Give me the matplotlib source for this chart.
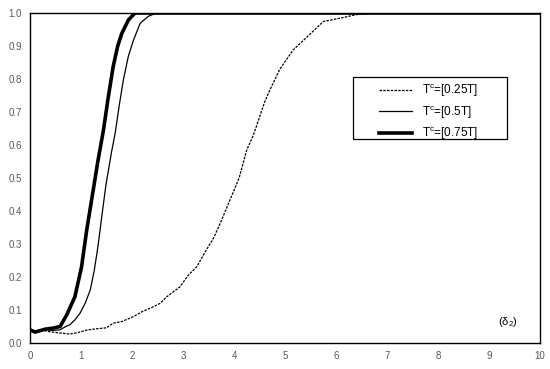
import matplotlib
matplotlib.use("Agg")
import matplotlib.pyplot as plt
from matplotlib.patches import Rectangle
from matplotlib.ticker import FormatStrFormatter

plt.rcParams["font.family"] = ["Liberation Sans", "DejaVu Sans"]

# T^c = 0.25T (dashed)
x_q = [0.0, 0.1, 0.2, 0.39, 0.6, 0.78, 0.95, 1.11, 1.3, 1.5, 1.63, 1.8, 2.03, 2.2,
       2.42, 2.55, 2.68, 2.94, 3.1, 3.27, 3.45, 3.6, 3.75, 3.92, 4.1, 4.25, 4.38,
       4.48, 4.6, 4.7, 4.9, 5.16, 5.45, 5.75, 6.1, 6.4, 6.7, 10.0]
y_q = [0.04, 0.035, 0.04, 0.034, 0.03, 0.027, 0.032, 0.039, 0.043, 0.046, 0.06, 0.065,
       0.08, 0.095, 0.11, 0.12, 0.14, 0.17, 0.205, 0.231, 0.28, 0.318, 0.37, 0.433,
       0.5, 0.585, 0.63, 0.675, 0.73, 0.766, 0.83, 0.888, 0.93, 0.974, 0.985, 0.995,
       1.0, 1.0]

# T^c = 0.5T (thin)
x_h = [0.0, 0.1, 0.3, 0.45, 0.59, 0.7, 0.78, 0.88, 0.98, 1.08, 1.18, 1.26, 1.33,
       1.43, 1.49, 1.6, 1.67, 1.75, 1.83, 1.93, 2.03, 2.16, 2.32, 2.48, 10.0]
y_h = [0.04, 0.033, 0.04, 0.038, 0.04, 0.05, 0.055, 0.07, 0.09, 0.12, 0.16, 0.22,
       0.29, 0.41, 0.48, 0.58, 0.636, 0.72, 0.797, 0.87, 0.918, 0.969, 0.99, 1.0, 1.0]

# T^c = 0.75T (thick)
x_t = [0.0, 0.1, 0.3, 0.45, 0.59, 0.72, 0.88, 1.01, 1.11, 1.24, 1.33, 1.44,
       1.53, 1.63, 1.72, 1.8, 1.93, 2.06, 10.0]
y_t = [0.04, 0.033, 0.042, 0.045, 0.05, 0.085, 0.14, 0.23, 0.34, 0.464, 0.55, 0.645,
       0.74, 0.837, 0.9, 0.938, 0.979, 1.0, 1.0]

labels = ["T$^{\\mathregular{c}}$=[0.25T]", "T$^{\\mathregular{c}}$=[0.5T]",
          "T$^{\\mathregular{c}}$=[0.75T]"]

fig = plt.figure(figsize=(5.5, 3.69), dpi=100)
ax = fig.add_axes([30 / 550, 26 / 369, 510 / 550, 330 / 369])

ax.plot(x_q, y_q, color="black", lw=0.9, ls=(0, (2, 1)), label=labels[0])
ax.plot(x_h, y_h, color="black", lw=0.9, label=labels[1])
ax.plot(x_t, y_t, color="black", lw=2.6, label=labels[2])

ax.set_xlim(0, 10)
ax.set_ylim(0, 1)
ax.set_xticks(range(0, 11))
ax.set_yticks([i / 10 for i in range(11)])
ax.yaxis.set_major_formatter(FormatStrFormatter("%.1f"))
ax.tick_params(length=0, labelsize=7, labelcolor="#595959", pad=6)
for s in ax.spines.values():
    s.set_color("black")
    s.set_linewidth(1.0)

ax.text(9.37, 0.065, "(δ$_{\\mathregular{2}}$)", fontsize=8, ha="center", va="center")

# legend box is wider than its content, so draw the frame separately
ax.add_patch(Rectangle((0.633, 0.618), 0.302, 0.188, transform=ax.transAxes,
                       facecolor="white", edgecolor="black", lw=0.9, zorder=4))
leg = ax.legend(loc="upper left", bbox_to_anchor=(0.684, 0.79), fontsize=8.5,
                frameon=False, handlelength=2.8, handletextpad=0.85, borderpad=0,
                labelspacing=0.4, borderaxespad=0)
leg.set_zorder(5)

fig.savefig("out.png", dpi=100)
